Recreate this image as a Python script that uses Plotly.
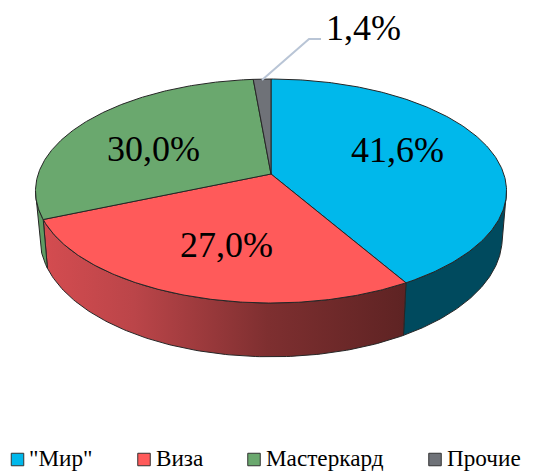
import numpy as np
import plotly.graph_objects as go

# Data
categories = ['"Мир"', "Виза", "Мастеркард", "Прочие"]
values = [41.6, 27.0, 30.0, 1.4]
labels = ["41,6%", "27,0%", "30,0%", "1,4%"]

# Styling
top_colors = ["#00b8eb", "#ff5a5a", "#6aa86e", "#6f7278"]
wall_colors = ["#004a5e", None, "#5f9c63", "#55585c"]
red_gradient = [[0, "#d44c50"], [0.25, "#bb4549"], [0.62, "#7e2f30"], [1, "#5e2323"]]
edge = "#262626"
serif = "Liberation Serif"

W, H = 542, 471
CX, CY = 271, 174
FX, GY, P = 232.8, 109.4, 0.152      # top plane projection
BOT_Y, BOT_FX, BOT_GY = 220, 228.5, 116  # bottom plane projection


def project(a, plane="top"):
    u, v = np.sin(a), np.cos(a)
    d = 1 + P * v
    if plane == "top":
        return CX + FX * u / d, CY - GY * v / d
    return CX + BOT_FX * u / d, BOT_Y - BOT_GY * v / d


cum = np.cumsum([0] + values) / sum(values) * 2 * np.pi
vis_lo = np.pi - np.arccos(P)
vis_hi = np.pi + np.arccos(P)

fig = go.Figure()

# Side walls
for i in range(len(values)):
    a0, a1 = max(cum[i], vis_lo), min(cum[i + 1], vis_hi)
    if a1 <= a0:
        continue
    arc = np.linspace(a0, a1, 120)
    xt, yt = project(arc, "top")
    xb, yb = project(arc[::-1], "bot")
    xs = np.r_[xt, xb, xt[0]]
    ys = np.r_[yt, yb, yt[0]]
    kw = dict(fillcolor=wall_colors[i])
    if wall_colors[i] is None:
        kw = dict(fillgradient=dict(type="horizontal", colorscale=red_gradient))
    fig.add_trace(go.Scatter(x=xs, y=ys, mode="lines", fill="toself",
                             line=dict(color=edge, width=1), hoverinfo="skip", **kw))

# Top faces
for i in range(len(values)):
    arc = np.linspace(cum[i], cum[i + 1], 200)
    xt, yt = project(arc, "top")
    xs = np.r_[CX, xt, CX]
    ys = np.r_[CY, yt, CY]
    fig.add_trace(go.Scatter(x=xs, y=ys, mode="lines", fill="toself", fillcolor=top_colors[i],
                             line=dict(color=edge, width=1), hoverinfo="skip"))

# Leader line for the small slice
fig.add_trace(go.Scatter(x=[262, 309, 321], y=[80, 39, 39], mode="lines",
                         line=dict(color="#b9c5d6", width=2), hoverinfo="skip"))

# Data labels
label_pos = [(397, 150), (226, 245), (153, 149), (363, 28)]
for t, (x, y) in zip(labels, label_pos):
    fig.add_annotation(x=x, y=y, text=t, showarrow=False, xanchor="center", yanchor="middle",
                       font=dict(family=serif, size=36, color="black"))

# Legend
legend_x = [17.5, 144, 254, 435]
legend_y = 459.5
fig.add_trace(go.Scatter(
    x=legend_x, y=[legend_y] * 4, mode="markers", hoverinfo="skip",
    marker=dict(symbol="square", size=12.5, color=top_colors, line=dict(color="#333333", width=1))))
for name, x in zip(categories, legend_x):
    fig.add_annotation(x=x + 9.5, y=458, text=name, showarrow=False, xanchor="left", yanchor="middle",
                       font=dict(family=serif, size=23.2, color="black"))

fig.update_layout(
    width=W, height=H, autosize=False, showlegend=False,
    margin=dict(l=0, r=0, t=0, b=0), paper_bgcolor="white", plot_bgcolor="white",
    font=dict(family=serif),
    xaxis=dict(range=[0, W], visible=False, fixedrange=True),
    yaxis=dict(range=[H, 0], visible=False, fixedrange=True),
)
fig.write_html("out.html", config={"displayModeBar": False},
               post_script="document.body.style.margin='0';")
